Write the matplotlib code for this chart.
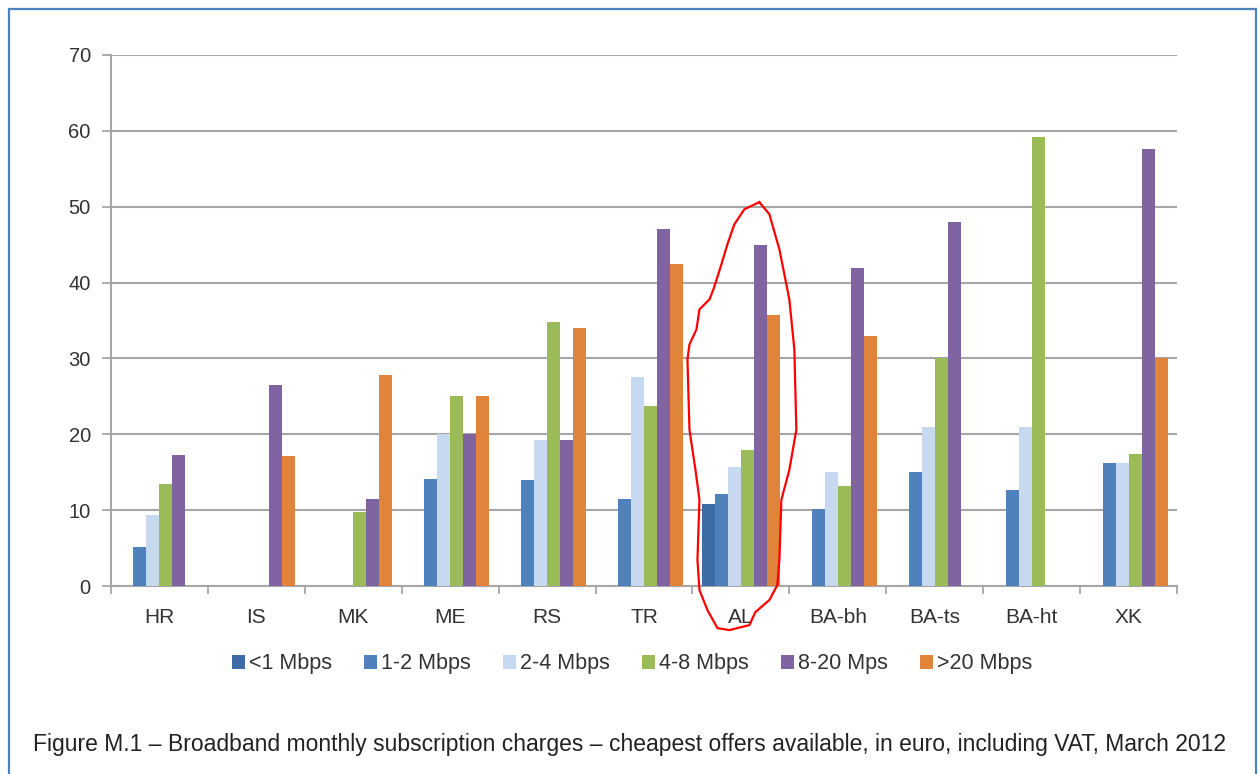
import matplotlib
matplotlib.use("Agg")
import matplotlib.pyplot as plt
import numpy as np
from matplotlib.patches import Rectangle

plt.rcParams['font.family'] = ['Liberation Sans', 'DejaVu Sans']

countries = ["HR", "IS", "MK", "ME", "RS", "TR", "AL", "BA-bh", "BA-ts", "BA-ht", "XK"]
series_names = ["<1 Mbps", "1-2 Mbps", "2-4 Mbps", "4-8 Mbps", "8-20 Mps", ">20 Mbps"]
nan = np.nan

# monthly charge in euro, one list per speed band (nan = no offer)
lt_1 = [nan, nan, nan, nan, nan, nan, 10.8, nan, nan, nan, nan]
mb_1_2 = [5.2, nan, nan, 14.1, 14.0, 11.5, 12.1, 10.1, 15.0, 12.6, 16.2]
mb_2_4 = [9.3, nan, nan, 20.0, 19.3, 27.5, 15.7, 15.0, 20.9, 20.9, 16.2]
mb_4_8 = [13.4, nan, 9.7, 25.0, 34.8, 23.7, 17.9, 13.2, 30.0, 59.2, 17.4]
mb_8_20 = [17.3, 26.5, 11.5, 20.0, 19.3, 47.0, 45.0, 41.9, 48.0, nan, 57.6]
gt_20 = [nan, 17.1, 27.8, 25.0, 34.0, 42.5, 35.7, 33.0, nan, nan, 30.0]

colors = ["#3F6CA5", "#4F81BD", "#C6D9F1", "#9BBB59", "#8064A2", "#E0843C"]
all_series = [lt_1, mb_1_2, mb_2_4, mb_4_8, mb_8_20, gt_20]

fig = plt.figure(figsize=(12.59, 7.74), dpi=100)
ax = fig.add_axes([111 / 1259, 1 - 586 / 774, (1177 - 111) / 1259, (586 - 55) / 774])

x = np.arange(len(countries))
w = 0.134
for k, (vals, c, name) in enumerate(zip(all_series, colors, series_names)):
    ax.bar(x + (k - 2.5) * w, vals, width=w, color=c, label=name, zorder=3)

ax.set_xlim(-0.5, len(countries) - 0.5)
ax.set_ylim(0, 70)
ax.set_yticks(np.arange(0, 71, 10))
ax.yaxis.grid(True, color="#A6A6A6", linewidth=1.5, zorder=0)
for s in ["top", "right"]:
    ax.spines[s].set_visible(False)
for s in ["left", "bottom"]:
    ax.spines[s].set_color("#A6A6A6")
    ax.spines[s].set_linewidth(1.5)

ax.set_xticks(np.arange(-0.5, len(countries), 1))
ax.set_xticklabels([])
ax.set_xticks(x, minor=True)
ax.set_xticklabels(countries, minor=True)
ax.tick_params(axis="x", which="major", length=6, width=1.3, color="#A6A6A6", direction="out")
ax.tick_params(axis="x", which="minor", length=0, pad=16, labelsize=15, labelcolor="#333333")
ax.tick_params(axis="y", length=6.5, width=1.3, color="#A6A6A6", pad=8, labelsize=14.5, labelcolor="#333333")

# red hand-drawn loop around AL
loop_px = [(760, 203), (745, 210), (735, 225), (728, 245), (722, 265), (714, 290), (710, 300),
           (700, 310), (697, 330), (690, 345), (688, 360), (690, 430), (696, 470), (700, 500),
           (698, 560), (700, 590), (708, 610), (718, 628), (730, 630), (750, 625), (756, 612),
           (770, 600), (778, 585), (780, 560), (782, 500), (790, 470), (797, 430), (795, 350),
           (790, 300), (780, 250), (770, 215), (760, 203)]
lx = [(p[0] - 159.5) / 97 for p in loop_px]
ly = [(586 - p[1]) / 7.57 for p in loop_px]
ax.plot(lx, ly, color="red", linewidth=1.6, clip_on=False, zorder=5)

fig.legend(loc="center", bbox_to_anchor=(0.502, 1 - 664 / 774), ncol=6, frameon=False,
           fontsize=15.5, handlelength=0.6, handleheight=0.6, handletextpad=0.2,
           columnspacing=1.48, labelcolor="#333333")

fig.text(0.5, 1 - 745 / 774, "Figure M.1 \u2013 Broadband monthly subscription charges \u2013 cheapest offers "
         "available, in euro, including VAT, March 2012", ha="center", va="center",
         fontsize=16.5, color="#222222")

fig.patches.append(Rectangle((9 / 1259, -0.1), (1256 - 9) / 1259, 1.1 - 9 / 774,
                             transform=fig.transFigure, fill=False, edgecolor="#4F81BD",
                             linewidth=1.6))

fig.savefig("out.png", dpi=100)
